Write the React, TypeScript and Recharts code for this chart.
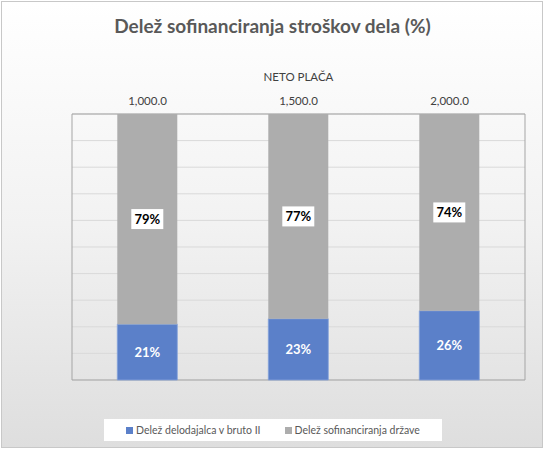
// Delež sofinanciranja stroškov dela: 100 % zloženi stolpci po neto plači
import { BarChart, Bar, XAxis, YAxis, CartesianGrid, LabelList, ReferenceArea } from "recharts";

const kategorije = ["1,000.0", "1,500.0", "2,000.0"];
const delezDelodajalca = [21, 23, 26];
const delezDrzave = [79, 77, 74];
const yTicks = [0, 10, 20, 30, 40, 50, 60, 70, 80, 90, 100];

const serije = [
  { key: "delodajalec", name: "Delež delodajalca v bruto II", color: "#5B80C9" },
  { key: "drzava", name: "Delež sofinanciranja države", color: "#ADADAD" },
];

const podatki = kategorije.map((k, i) => ({
  placa: k,
  delodajalec: delezDelodajalca[i],
  drzava: delezDrzave[i],
}));

const FONT = "Lato, 'Noto Sans', sans-serif";

function OznakaVOkvirju(props: any) {
  const { x, y, width, height, value } = props;
  const cx = Number(x) + Number(width) / 2;
  const cy = Number(y) + Number(height) / 2;
  return (
    <g>
      <rect x={cx - 16} y={cy - 10} width={32} height={20} fill="#ffffff" />
      <text x={cx} y={cy} textAnchor="middle" dominantBaseline="central"
        fontFamily={FONT} fontSize={13} fontWeight={700} fill="#000000">{`${value}%`}</text>
    </g>
  );
}

export default function App() {
  return (
    <div style={{ position: "absolute", left: 0, top: 0, width: 545, height: 449, background: "#ffffff", fontFamily: FONT }}>
      <div style={{
        position: "absolute", left: 1, top: 1, width: 542, height: 447, boxSizing: "border-box",
        border: "1px solid #c8c8c8", background: "linear-gradient(to bottom, #ffffff 0%, #f2f2f2 50%, #dedede 100%)",
      }} />
      <div style={{
        position: "absolute", left: 0, top: 14, width: 545, textAlign: "center",
        fontSize: 19, fontWeight: 700, color: "#595959",
      }}>Delež sofinanciranja stroškov dela (%)</div>

      <div style={{ position: "absolute", left: 0, top: 0 }}>
        <BarChart width={545} height={449} data={podatki} barCategoryGap="30%"
          margin={{ top: 74, right: 20, left: 72, bottom: 69 }}>
          <CartesianGrid vertical={false} stroke="#d9d9d9" />
          <XAxis dataKey="placa" orientation="top" height={40} axisLine={false} tickLine={false} tickMargin={3}
            tick={{ fontSize: 11.5, fill: "#404040", fontFamily: FONT }}
            label={{ value: "NETO PLAČA", position: "insideTop", offset: -1, fontSize: 11.5, fill: "#404040", fontFamily: FONT }} />
          <YAxis hide domain={[0, 100]} ticks={yTicks} />
          <ReferenceArea y1={0} y2={100} fill="none" stroke="#a5a5a5" strokeWidth={1} />
          <Bar dataKey="delodajalec" stackId="a" name={serije[0].name} fill={serije[0].color}
            stroke="#85a2da" strokeWidth={0.8} isAnimationActive={false}>
            <LabelList dataKey="delodajalec" position="center" formatter={(v: any) => `${v}%`}
              fill="#ffffff" fontSize={13} fontWeight={700} fontFamily={FONT} />
          </Bar>
          <Bar dataKey="drzava" stackId="a" name={serije[1].name} fill={serije[1].color} isAnimationActive={false}>
            <LabelList dataKey="drzava" content={OznakaVOkvirju} />
          </Bar>
        </BarChart>
      </div>

      <div style={{
        position: "absolute", left: 104, top: 419, width: 338, height: 22, background: "#ffffff",
        display: "flex", alignItems: "center", justifyContent: "center", gap: 24,
        fontSize: 10.5, color: "#595959",
      }}>
        {serije.map(s => (
          <div key={s.key} style={{ display: "flex", alignItems: "center", gap: 3 }}>
            <span style={{ width: 7, height: 7, background: s.color, display: "inline-block" }} />
            <span>{s.name}</span>
          </div>
        ))}
      </div>
    </div>
  );
}
